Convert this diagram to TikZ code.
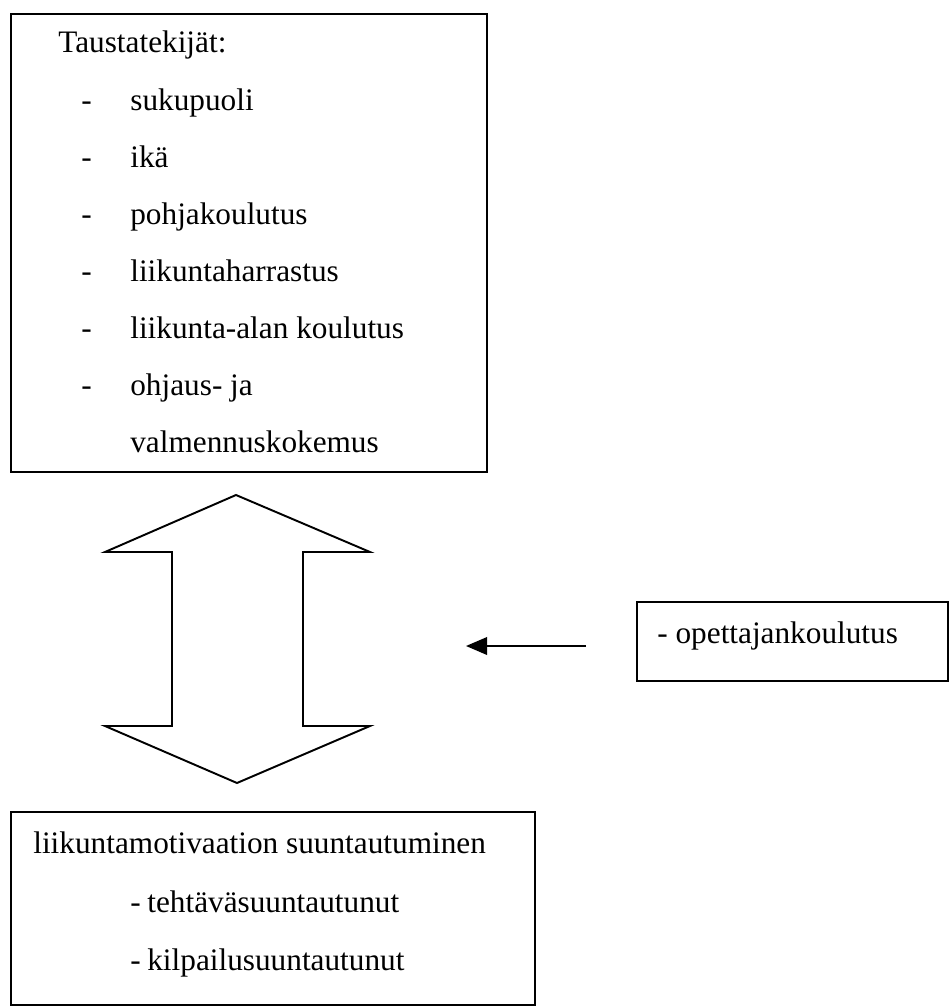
\documentclass[tikz,border=0pt]{standalone}
\usepackage{fontspec}
\setmainfont{Liberation Serif}
\usetikzlibrary{positioning,arrows.meta,calc}
\tikzset{
  box/.style={draw,line width=1.1pt,inner sep=0pt},
  txt/.style={anchor=base west,inner sep=0pt,font=\fontsize{17.8}{20}\selectfont},
  arr/.style={-{Triangle[length=12pt,width=10pt]},line width=1.1pt},
  big/.style={draw,line width=1.1pt,line join=miter},
}
% one row of the background list: name, row, text
\newcommand{\tk}[3]{%
  \node[txt] (d#1) at (81,{53+#2*57.1}) {-};
  \node[txt] (#1) at (130,{53+#2*57.1}) {#3};}

\begin{document}
\begin{tikzpicture}[x=0.02cm,y=-0.02cm]
\useasboundingbox (0,0) rectangle (949,1007);
% boxes
\node[box,minimum width=9.52cm,minimum height=9.16cm] (tausta) at (249,243) {};
\node[box,minimum width=6.22cm,minimum height=1.58cm] (opet) at (792.5,641.5) {};
\node[box,minimum width=10.48cm,minimum height=3.86cm] (motiv) at (273,908.5) {};
% background factors
\node[txt] (otsikko) at (58,53) {Taustatekijät:};
\tk{i1}{1}{sukupuoli}
\tk{i2}{2}{ikä}
\tk{i3}{3}{pohjakoulutus}
\tk{i4}{4}{liikuntaharrastus}
\tk{i5}{5}{liikunta-alan koulutus}
\tk{i6}{6}{ohjaus- ja}
\node[txt] (i7) at (130,{53+7*57.1}) {valmennuskokemus};
% teacher education
\node[txt] (opetteksti) at (657,643) {- opettajankoulutus};
% orientation
\node[txt] (motivotsikko) at (33,853) {liikuntamotivaation suuntautuminen};
\node[txt] (dm1) at (130,912) {-};
\node[txt] (m1) at (147,912) {tehtäväsuuntautunut};
\node[txt] (dm2) at (130,970) {-};
\node[txt] (m2) at (147,970) {kilpailusuuntautunut};
% double arrow
\draw[big] (236,495) -- (370,552) -- (303,552) -- (303,726) -- (370,726)
  -- (237,783) -- (105,726) -- (172,726) -- (172,552) -- (105,552) -- cycle;
% influence arrow
\coordinate (tail) at (586,646);
\coordinate (tip) at (466,646);
\draw[arr] (tail) -- (tip);
\end{tikzpicture}
\end{document}
